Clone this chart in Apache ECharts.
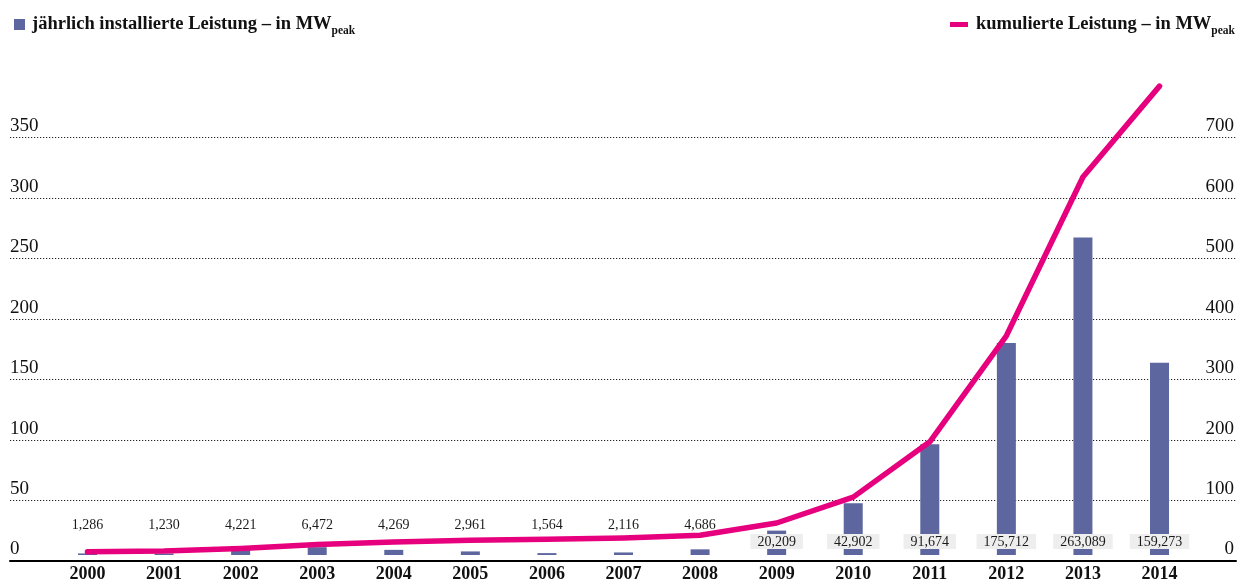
<!DOCTYPE html>
<html>
<head>
<meta charset="utf-8">
<script src="https://cdn.jsdelivr.net/npm/echarts@6/dist/echarts.min.js"></script>
<style>
html,body{margin:0;padding:0;background:#fff;}
#chart{width:1237px;height:583px;}
</style>
</head>
<body>
<div id="chart"></div>
<script>
const years = ['2000','2001','2002','2003','2004','2005','2006','2007','2008','2009','2010','2011','2012','2013','2014'];
const annualMW = [1.286, 1.230, 4.221, 6.472, 4.269, 2.961, 1.564, 2.116, 4.686, 20.209, 42.902, 91.674, 175.712, 263.089, 159.273];
const cumulativeMW = [5.2, 6.5, 10.7, 17.2, 21.5, 24.4, 26.0, 28.1, 32.8, 53.0, 95.9, 187.6, 363.3, 626.4, 777.0];
const leftAxisRange = [0, 350, 50];
const rightAxisRange = [0, 700, 100];
const boxedFromIndex = 9;

const serif = '"Liberation Serif", "Times New Roman", serif';
const barName = 'jährlich installierte Leistung – in MW';
const lineName = 'kumulierte Leistung – in MW';
const barColor = '#5d669e';
const lineColor = '#e6007e';

const fmt = v => v.toFixed(3).replace('.', ',');

const barData = annualMW.map((v, i) => {
  if (i >= boxedFromIndex) {
    return { value: v, label: { position: 'insideBottom', distance: 6, backgroundColor: '#eeeeee', padding: [1, 7, 0, 7], lineHeight: 14 } };
  }
  return { value: v, label: { position: 'insideBottom', distance: 22, lineHeight: 16 } };
});

const legendRich = {
  a: { fontFamily: serif, fontSize: 18.5, fontWeight: 'bold', color: '#111', lineHeight: 26 },
  s: { fontFamily: serif, fontSize: 11.5, fontWeight: 'bold', color: '#111', lineHeight: 26, verticalAlign: 'bottom' }
};

const chart = echarts.init(document.getElementById('chart'), null, { renderer: 'canvas' });
chart.setOption({
  animation: false,
  backgroundColor: '#ffffff',
  legend: [
    {
      data: [{ name: barName, icon: 'rect' }],
      left: 14, top: 15, padding: 0, itemWidth: 11, itemHeight: 11,
      formatter: n => '{a|' + n + '}{s|peak}',
      textStyle: { rich: legendRich, padding: [0, 0, 0, 2] },
      selectedMode: false
    },
    {
      data: [{ name: lineName, icon: 'rect' }],
      right: 2, top: 15, padding: 0, itemWidth: 18, itemHeight: 5,
      formatter: n => '{a|' + n + '}{s|peak}',
      textStyle: { rich: legendRich, padding: [0, 0, 0, 3] },
      selectedMode: false
    }
  ],
  grid: [
    { left: 10, right: 0, top: 137.7, bottom: 22, containLabel: false },
    { left: 49.2, right: 39.2, top: 132.6, bottom: 27, containLabel: false }
  ],
  xAxis: [
    {
      gridIndex: 0, type: 'value', min: 0, max: 1,
      axisLine: { show: true, lineStyle: { color: '#000', width: 2 } },
      axisTick: { show: false }, axisLabel: { show: false }, splitLine: { show: false }
    },
    {
      gridIndex: 1, type: 'category', data: years, boundaryGap: true,
      axisLine: { show: false }, axisTick: { show: false }, splitLine: { show: false },
      axisLabel: { fontFamily: serif, fontSize: 18, fontWeight: 'bold', color: '#111', margin: 10, lineHeight: 18, interval: 0 }
    }
  ],
  yAxis: [
    {
      gridIndex: 0, type: 'value', position: 'left',
      min: leftAxisRange[0], max: leftAxisRange[1], interval: leftAxisRange[2],
      axisLine: { show: false }, axisTick: { show: false },
      splitLine: { show: true, lineStyle: { color: '#222', width: 1.2, type: [1.2, 1.8] } },
      axisLabel: { inside: true, margin: 0, verticalAlign: 'bottom', padding: [0, 0, 2, 0], fontFamily: serif, fontSize: 19, color: '#111', showMinLabel: true, showMaxLabel: true }
    },
    {
      gridIndex: 0, type: 'value', position: 'right',
      min: rightAxisRange[0], max: rightAxisRange[1], interval: rightAxisRange[2],
      axisLine: { show: false }, axisTick: { show: false }, splitLine: { show: false },
      axisLabel: { inside: true, margin: 2, verticalAlign: 'bottom', padding: [0, 0, 2, 0], fontFamily: serif, fontSize: 19, color: '#111', showMinLabel: true, showMaxLabel: true }
    },
    {
      gridIndex: 1, type: 'value', position: 'left',
      min: leftAxisRange[0], max: leftAxisRange[1],
      show: false, splitLine: { show: false }
    },
    {
      gridIndex: 1, type: 'value', position: 'right',
      min: rightAxisRange[0], max: rightAxisRange[1],
      show: false, splitLine: { show: false }
    }
  ],
  series: [
    {
      name: barName, type: 'bar', xAxisIndex: 1, yAxisIndex: 2,
      data: barData, barWidth: 19,
      itemStyle: { color: barColor },
      label: { show: true, formatter: p => fmt(p.value), fontFamily: serif, fontSize: 14, color: '#1a1a1a' },
      z: 2
    },
    {
      name: lineName, type: 'line', xAxisIndex: 1, yAxisIndex: 3,
      data: cumulativeMW, symbol: 'none', clip: false,
      lineStyle: { color: lineColor, width: 5.5, cap: 'round', join: 'round' },
      itemStyle: { color: lineColor },
      z: 3
    }
  ]
});
</script>
</body>
</html>
